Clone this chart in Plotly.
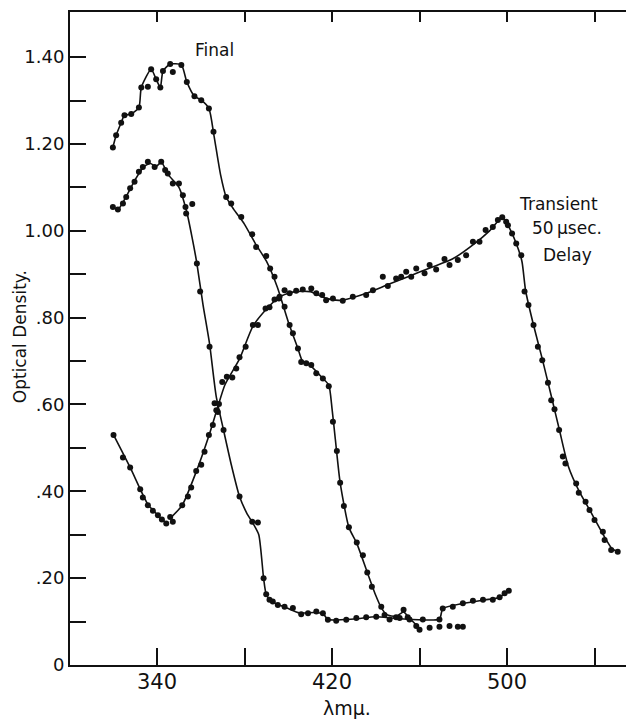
import plotly.graph_objects as go

# ---------------- data ----------------
# "Final" spectrum: measured points
final_lam = [319.8, 321.3, 323.6, 325.1, 328.2, 331.7, 332.8, 335.8, 337.3, 339.6,
             341.5, 342.7, 346.0, 347.2, 351.1, 353.6, 357.1, 360.2, 363.7, 365.8,
             371.6, 373.9, 378.5, 383.5, 385.3, 389.9, 391.7, 393.7, 395.7, 398.3,
             400.6, 402.1, 404.4, 405.9, 408.2, 410.5, 412.8, 415.8, 418.5, 420.4,
             422.2, 423.7, 425.4, 427.7, 431.3, 434.1, 436.1, 438.2, 442.5, 444.0,
             449.3, 452.7, 454.6, 458.5, 460.0, 464.6, 469.1, 473.7, 477.5, 479.8]
final_od = [1.192, 1.220, 1.249, 1.266, 1.269, 1.284, 1.330, 1.332, 1.372, 1.349,
            1.330, 1.368, 1.384, 1.366, 1.382, 1.343, 1.310, 1.301, 1.282, 1.228,
            1.078, 1.063, 1.032, 0.992, 0.963, 0.942, 0.913, 0.894, 0.844, 0.825,
            0.783, 0.764, 0.729, 0.698, 0.695, 0.691, 0.672, 0.660, 0.642, 0.560,
            0.493, 0.420, 0.366, 0.317, 0.282, 0.253, 0.213, 0.180, 0.134, 0.115,
            0.110, 0.127, 0.110, 0.090, 0.081, 0.086, 0.088, 0.090, 0.088, 0.088]
# "Final" spectrum: drawn curve
final_line_lam = [319.8, 321.3, 323.6, 325.1, 328.2, 331.7, 332.8, 337.3, 339.6, 341.5,
                  342.7, 346.0, 351.1, 353.6, 357.1, 360.2, 363.7, 366.0, 369.0, 371.6,
                  375.0, 380.0, 385.0, 390.0, 395.0, 400.0, 404.4, 406.5, 410.5, 415.8,
                  418.5, 420.0, 421.5, 423.7, 427.7, 431.3, 436.0, 440.0, 442.5, 445.0,
                  449.3, 452.7, 455.0, 458.5]
final_line_od = [1.192, 1.220, 1.249, 1.266, 1.269, 1.284, 1.330, 1.372, 1.349, 1.330,
                 1.368, 1.384, 1.382, 1.343, 1.310, 1.301, 1.282, 1.220, 1.130, 1.078,
                 1.050, 1.015, 0.970, 0.930, 0.870, 0.790, 0.729, 0.700, 0.688, 0.660,
                 0.645, 0.590, 0.520, 0.420, 0.317, 0.280, 0.215, 0.160, 0.132, 0.116,
                 0.112, 0.122, 0.110, 0.092]

# Unlabelled lower spectrum: measured points
lower_lam = [319.8, 322.1, 324.4, 325.9, 327.7, 329.7, 331.7, 333.5, 335.8, 338.9,
             341.9, 343.7, 344.9, 347.2, 350.0, 351.8, 353.0, 356.1, 353.3, 358.2,
             359.7, 364.0, 366.3, 367.8, 370.4, 377.7, 383.5, 386.1, 388.7, 389.9,
             391.4, 392.9, 395.2, 398.3, 402.1, 405.9, 409.0, 412.8, 415.8, 418.1,
             421.9, 426.5, 431.1, 435.6, 440.2, 446.3, 450.9, 455.4, 461.5, 469.1,
             470.6, 475.2, 479.8, 484.4, 489.0, 493.5, 496.6, 498.9, 500.8]
lower_od = [1.055, 1.049, 1.063, 1.078, 1.098, 1.113, 1.136, 1.147, 1.159, 1.147,
            1.159, 1.140, 1.132, 1.109, 1.109, 1.082, 1.055, 1.062, 1.040, 0.925,
            0.860, 0.733, 0.603, 0.583, 0.541, 0.388, 0.330, 0.328, 0.200, 0.163,
            0.150, 0.146, 0.138, 0.134, 0.131, 0.117, 0.119, 0.123, 0.119, 0.104,
            0.102, 0.104, 0.108, 0.110, 0.111, 0.105, 0.108, 0.105, 0.105, 0.105,
            0.130, 0.134, 0.142, 0.148, 0.150, 0.150, 0.156, 0.165, 0.171]
# Unlabelled lower spectrum: drawn curve
lower_line_lam = [319.8, 322.1, 326.0, 330.0, 334.0, 337.0, 339.5, 342.0, 345.0, 350.0,
                  353.5, 356.0, 358.2, 361.0, 364.0, 367.0, 370.4, 374.0, 377.7, 381.0,
                  384.0, 386.5, 388.7, 389.9, 392.0, 396.0, 400.0, 405.0, 412.0, 416.0,
                  418.0, 430.0, 440.0, 450.0, 469.1, 470.6, 480.0, 490.0, 496.0, 500.8]
lower_line_od = [1.055, 1.049, 1.080, 1.118, 1.148, 1.155, 1.148, 1.158, 1.130, 1.100,
                 1.045, 0.985, 0.925, 0.830, 0.740, 0.620, 0.541, 0.460, 0.388, 0.350,
                 0.325, 0.300, 0.200, 0.163, 0.148, 0.138, 0.130, 0.120, 0.121, 0.118,
                 0.105, 0.106, 0.111, 0.107, 0.106, 0.130, 0.142, 0.150, 0.155, 0.171]

# "Transient 50 usec. Delay" spectrum: measured points
trans_lam = [320.1, 324.4, 327.7, 332.3, 333.5, 335.8, 338.1, 340.4, 342.2, 344.2,
             346.0, 347.2, 351.5, 354.1, 355.6, 357.9, 360.2, 361.7, 363.7, 365.5,
             367.1, 368.3, 369.8, 371.9, 374.4, 376.2, 377.7, 380.5, 383.8, 386.1,
             389.6, 391.4, 393.7, 396.0, 398.3, 400.6, 403.6, 406.6, 410.5, 412.8,
             415.5, 417.3, 420.4, 424.9, 429.5, 435.6, 438.7, 443.2, 445.5, 449.3,
             451.6, 453.9, 456.2, 458.5, 462.3, 464.6, 467.6, 471.4, 473.7, 477.5,
             481.3, 484.4, 487.4, 490.2, 493.5, 495.8, 497.8, 499.6, 500.4, 502.3,
             504.2, 506.5, 508.0, 509.8, 512.1, 514.1, 516.1, 518.7, 520.2, 521.7,
             523.8, 525.5, 526.7, 531.6, 532.8, 535.9, 537.7, 540.0, 543.8, 544.6,
             547.6, 550.6]
trans_od = [0.530, 0.478, 0.455, 0.405, 0.386, 0.368, 0.355, 0.345, 0.335, 0.326,
            0.341, 0.330, 0.368, 0.388, 0.409, 0.447, 0.461, 0.491, 0.530, 0.553,
            0.587, 0.601, 0.652, 0.664, 0.662, 0.683, 0.709, 0.733, 0.783, 0.783,
            0.821, 0.824, 0.842, 0.848, 0.863, 0.856, 0.862, 0.865, 0.867, 0.856,
            0.852, 0.840, 0.844, 0.839, 0.848, 0.852, 0.863, 0.894, 0.873, 0.890,
            0.894, 0.906, 0.894, 0.913, 0.902, 0.921, 0.911, 0.935, 0.921, 0.933,
            0.944, 0.975, 0.975, 1.002, 1.009, 1.025, 1.031, 1.021, 1.013, 0.994,
            0.971, 0.944, 0.860, 0.829, 0.783, 0.733, 0.702, 0.650, 0.610, 0.589,
            0.541, 0.480, 0.464, 0.418, 0.397, 0.376, 0.357, 0.334, 0.307, 0.288,
            0.265, 0.261]
# Transient spectrum: drawn curve (two pieces, gap at the minimum)
trans_line_lam = [320.1, 327.7, 335.8, 340.4, 344.2, None,
                  346.0, 351.5, 357.9, 363.7, 367.5, 371.0, 377.7, 383.8, 391.0,
                  396.0, 403.0, 410.0, 417.0, 424.0, 435.0, 445.0, 455.0, 465.0,
                  475.0, 485.0, 492.0, 497.8, 500.4, 504.2, 506.8, 508.5, 512.1,
                  516.1, 520.2, 524.0, 528.0, 533.0, 538.0, 544.0, 548.0, 550.6]
trans_line_od = [0.530, 0.455, 0.370, 0.345, 0.327, None,
                 0.338, 0.368, 0.445, 0.528, 0.590, 0.645, 0.705, 0.780, 0.825,
                 0.848, 0.860, 0.860, 0.845, 0.840, 0.855, 0.875, 0.895, 0.915,
                 0.935, 0.970, 1.000, 1.031, 1.013, 0.971, 0.930, 0.862, 0.783,
                 0.705, 0.620, 0.540, 0.458, 0.400, 0.355, 0.300, 0.268, 0.261]

x_tickvals = [340, 380, 420, 460, 500, 540]
x_ticktext = ["340", "", "420", "", "500", ""]
y_tickvals = [0, 0.2, 0.4, 0.6, 0.8, 1.0, 1.2, 1.4]
y_ticktext = ["0", ".20", ".40", ".60", ".80", "1.00", "1.20", "1.40"]

# ---------------- figure ----------------
FONT = "DejaVu Sans"
INK = "#111111"

fig = go.Figure()

def add_curve(line_x, line_y, pts_x, pts_y):
    fig.add_trace(go.Scatter(x=line_x, y=line_y, mode="lines",
                             line=dict(color=INK, width=1.6, shape="spline", smoothing=0.6),
                             connectgaps=False, showlegend=False, hoverinfo="skip"))
    fig.add_trace(go.Scatter(x=pts_x, y=pts_y, mode="markers",
                             marker=dict(color=INK, size=6),
                             showlegend=False))

add_curve(final_line_lam, final_line_od, final_lam, final_od)
add_curve(lower_line_lam, lower_line_od, lower_lam, lower_od)
add_curve(trans_line_lam, trans_line_od, trans_lam, trans_od)

# empty trace on the overlay axes (top ticks / right ticks)
fig.add_trace(go.Scatter(x=[], y=[], xaxis="x2", yaxis="y2", showlegend=False))

XR = [300.2, 561.7]
YR = [0, 1.504]

fig.update_layout(
    width=634, height=725,
    margin=dict(l=62, r=0, t=4, b=68, autoexpand=False),
    paper_bgcolor="white", plot_bgcolor="white",
    font=dict(family=FONT, color=INK),
    xaxis=dict(range=XR, showgrid=False, zeroline=False, automargin=False,
               showline=True, linecolor=INK, linewidth=2,
               tickmode="array", tickvals=x_tickvals, ticktext=x_ticktext,
               ticks="inside", ticklen=17, tickwidth=1.5, tickcolor=INK,
               ticklabelstandoff=-3,
               tickfont=dict(size=21, family=FONT, color=INK)),
    yaxis=dict(range=YR, showgrid=False, zeroline=False, automargin=False,
               showline=True, linecolor=INK, linewidth=2,
               tickmode="array", tickvals=y_tickvals, ticktext=y_ticktext,
               ticks="inside", ticklen=16, tickwidth=1.5, tickcolor=INK,
               minor=dict(tickvals=[0.1, 0.3, 0.5, 0.7, 0.9, 1.1, 1.3],
                          ticks="inside", ticklen=16, tickwidth=1.5, tickcolor=INK),
               tickfont=dict(size=18, family=FONT, color=INK)),
    xaxis2=dict(range=XR, overlaying="x", side="top", anchor="y2", automargin=False,
                showgrid=False, zeroline=False, showline=True, linecolor=INK, linewidth=2,
                tickmode="array", tickvals=x_tickvals, ticks="inside", ticklen=10,
                tickwidth=1.5, tickcolor=INK, showticklabels=False),
    yaxis2=dict(range=YR, overlaying="y", side="right", anchor="x2", automargin=False,
                showgrid=False, zeroline=False, showline=False,
                tickmode="array", tickvals=[0.1, 0.2, 0.3, 0.4, 0.5, 0.6, 0.7, 0.8,
                                            0.9, 1.0, 1.1, 1.2, 1.3, 1.4],
                ticks="inside", ticklen=13, tickwidth=1.5, tickcolor=INK,
                showticklabels=False),
)

ann_font = dict(family=FONT, size=17, color=INK)
def note(x, y, text):
    fig.add_annotation(x=x, y=y, xref="x", yref="y", text=text, showarrow=False,
                       xanchor="center", yanchor="middle", font=ann_font)

note(366.3, 1.416, "Final")
note(523.5, 1.061, "Transient")
note(527.2, 1.006, "50\u2009\u03bcsec.")
note(527.6, 0.944, "Delay")

# axis titles
fig.add_annotation(x=-0.0874, y=0.502, xref="paper", yref="paper",
                   xanchor="center", yanchor="middle",
                   text="Optical Density.", textangle=-90, showarrow=False,
                   font=dict(family=FONT, size=17, color=INK))
fig.add_annotation(x=0.484, y=-0.066, xref="paper", yref="paper",
                   xanchor="center", yanchor="middle",
                   text="\u03bbm\u03bc.", showarrow=False,
                   font=dict(family=FONT, size=19, color=INK))

fig.write_html("out.html")
